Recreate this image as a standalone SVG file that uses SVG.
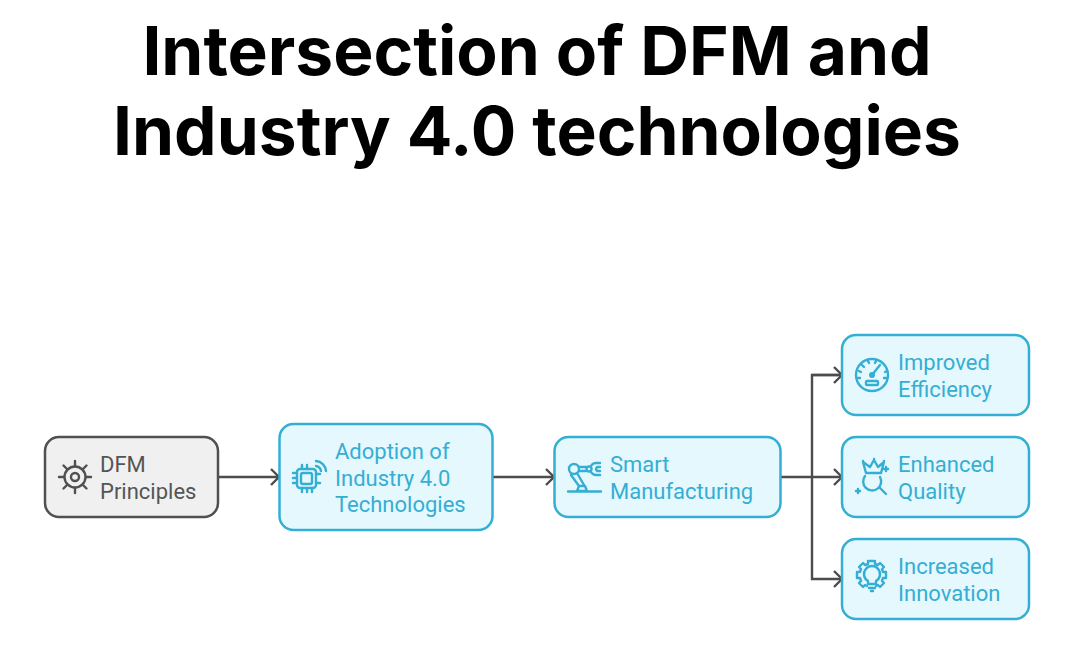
<svg xmlns="http://www.w3.org/2000/svg" width="1084" height="660" viewBox="0 0 1084 660">
<style>
.title{font-family:Inter,"Liberation Sans",sans-serif;font-weight:700;font-size:67.600px;fill:#000;text-anchor:middle}
.lb{font-family:Roboto,"Liberation Sans",sans-serif;font-size:22px}
.blue{fill:#e4f8fe;stroke:#35aed3;stroke-width:2.500}
.gray{fill:#f0f0f0;stroke:#505050;stroke-width:2.500}
.bt{fill:#35aed3}.gt{fill:#555}
.ib{fill:none;stroke:#35aed3;stroke-width:2.400;stroke-linecap:round;stroke-linejoin:round}
.ig{fill:none;stroke:#505050;stroke-width:2.400;stroke-linecap:round;stroke-linejoin:round}
.c{fill:none;stroke:#4c4c4c;stroke-width:2.400}
</style>
<defs><marker id="a" markerUnits="userSpaceOnUse" markerWidth="12" markerHeight="20" refX="10" refY="10" orient="auto"><path d="M2 2L10 10L2 18" fill="none" stroke="#4c4c4c" stroke-width="2.400"/></marker></defs>
<rect width="1084" height="660" fill="#fff"/>
<text class="title" x="537" y="75">Intersection of DFM and</text>
<text class="title" x="537" y="155">Industry 4.0 technologies</text>
<g id="connectors">
<path class="c" marker-end="url(#a)" d="M218 477H279"/>
<path class="c" marker-end="url(#a)" d="M492 477H554"/>
<path class="c" marker-end="url(#a)" d="M780 477H842"/>
<path class="c" marker-end="url(#a)" d="M842 375H812V579H842"/>
<path class="c" marker-end="url(#a)" d="M812 375H842"/>
</g>
<g id="dfm">
<rect class="gray" x="45" y="437" width="173" height="80" rx="14"/>
<circle class="ig" cx="75" cy="477" r="10.500"/><circle class="ig" cx="75" cy="477" r="4"/>
<path class="ig" d="M75 461v5M75 488v5M59 477h5M86 477h5M63.500 465.500l3.500 3.500M83 485l3.500 3.500M63.500 488.500l3.500-3.500M83 469l3.500-3.500"/>
<text class="lb gt" x="100" y="472">DFM</text><text class="lb gt" x="100" y="499">Principles</text>
</g>
<g id="adoption">
<rect class="blue" x="279.500" y="424" width="213" height="106" rx="14"/>
<rect class="ib" x="301" y="473" width="11" height="11" rx="2"/><rect class="ib" x="297" y="469" width="19" height="19" rx="3"/>
<path class="ib" d="M293 473h4M293 478h4M293 483h4M316 474h4M316 483h4M302 465v4M307 465v4M302 488v4M307 488v4M312 488v4"/>
<path class="ib" d="M316 466a6 6 0 0 1 5 5M316 461a11 11 0 0 1 10 10"/>
<text class="lb bt" x="335" y="459">Adoption of</text><text class="lb bt" x="335" y="486">Industry 4.0</text><text class="lb bt" x="335" y="512">Technologies</text>
</g>
<g id="smart">
<rect class="blue" x="554.500" y="437" width="226" height="80" rx="14"/>
<circle class="ib" cx="574" cy="469" r="5"/><circle class="ib" cx="589" cy="469" r="2.500"/>
<path class="ib" d="M579 467h7M579 471h7M571 475l8 11M577 473l7 12M579 486h6l2 5h-10zM568 491.500h33"/>
<path class="ib" d="M600 463h-3a6 6 0 0 0-6 3M600 475h-3a6 6 0 0 1-6-3M600 467h-3a3 3 0 0 0 0 4h3"/>
<text class="lb bt" x="610" y="472">Smart</text><text class="lb bt" x="610" y="499">Manufacturing</text>
</g>
<g id="efficiency">
<rect class="blue" x="842" y="335" width="187" height="80" rx="14"/>
<circle class="ib" cx="872" cy="375" r="16"/>
<path class="ib" d="M872 375l8-10M860 378h-2M861 372l-2-1M864 367l-2-2M869 363l-1-2M875 363l1-2M885 372l2-1M884 378h2"/>
<circle class="ib" cx="872" cy="375" r="1.800"/><rect class="ib" x="866" y="381" width="12" height="4" rx="1"/>
<text class="lb bt" x="898" y="370">Improved</text><text class="lb bt" x="898" y="397">Efficiency</text>
</g>
<g id="quality">
<rect class="blue" x="842" y="437" width="187" height="80" rx="14"/>
<path class="ib" d="M866 473l-3-11 7 5 4-7 4 7 6-5-3 11zM863 461h.1M874 459h.1M884 461h.1"/>
<path class="ib" d="M865 476a9 9 0 1 0 15 1M879 487l7 7M860 491h-4M858 489v4M888 469h-4M886 467v4"/>
<text class="lb bt" x="898" y="472">Enhanced</text><text class="lb bt" x="898" y="499">Quality</text>
</g>
<g id="innovation">
<rect class="blue" x="842" y="539" width="187" height="80" rx="14"/>
<path class="ib" d="M868 561v3l-3 1-2-2-4 4 2 2-1 3h-3v6h3l1 3-2 2 4 4 2-2 2 1M876 586l2-1 2 2 4-4-2-2 1-3h3v-6h-3l-1-3 2-2-4-4-2 2-3-1v-3h-6"/>
<path class="ib" d="M868 584v-3a8 8 0 1 1 8 0v3zM869 588h6M871 591h2"/>
<text class="lb bt" x="898" y="574">Increased</text><text class="lb bt" x="898" y="601">Innovation</text>
</g>
</svg>
